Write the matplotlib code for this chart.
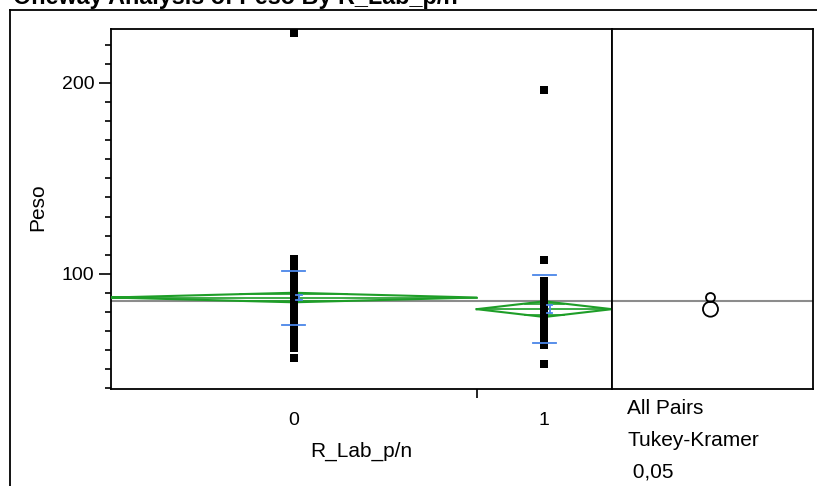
import matplotlib
matplotlib.use('Agg')
import matplotlib.pyplot as plt
from matplotlib.lines import Line2D
import numpy as np

# Constants
FIG_W, FIG_H, DPI = 817, 486, 100
FONT = 'Liberation Sans'
GREEN = '#1E9E28'
BLUE = '#4A86E8'
GREY = '#8C8C8C'

# Data
groups = ['0', '1']
group_counts = [73, 27]
peso_0 = [226, 108, 107, 106, 105, 104, 103, 102, 101, 100, 99, 98, 97, 97, 96,
          95, 95, 94, 93, 93, 92, 92, 91, 91, 90, 90, 89, 89, 88, 88, 88, 87, 87,
          86, 86, 86, 85, 85, 84, 84, 83, 83, 82, 82, 81, 81, 80, 80, 79, 79, 78,
          78, 77, 76, 76, 75, 74, 74, 73, 72, 71, 70, 70, 69, 68, 67, 66, 65, 64,
          63, 62, 61, 56]
peso_1 = [196, 107, 96, 95, 93, 91, 90, 89, 88, 87, 86, 85, 84, 83, 82, 81, 80,
          79, 78, 77, 76, 74, 72, 70, 67, 63, 53]
group_means = [87.6, 81.5]
group_ci = [2.5, 4.1]
group_se = [1.2, 2.2]
group_sd_upper = [101.7, 99.5]
group_sd_lower = [73.3, 63.7]
grand_mean = 86.0
y_limits = (39.7, 228.2)
y_major = [100, 200]
y_minor = list(range(40, 230, 10))


def px(x, y):
    """Pixel position (from top left) to figure fraction"""
    return x / FIG_W, 1 - y / FIG_H


def make_axes(fig, left, top, right, bottom):
    x0, y1 = px(left, top)
    x1, y0 = px(right, bottom)
    return fig.add_axes([x0, y0, x1 - x0, y1 - y0])


def draw_points(ax, centers):
    for c, vals in zip(centers, [peso_0, peso_1]):
        ax.plot([c] * len(vals), vals, 's', color='black', markersize=6,
                markeredgewidth=0, zorder=4)


def draw_diamonds(ax, edges, centers):
    for i, c in enumerate(centers):
        lo, hi = edges[i], edges[i + 1]
        m, ci = group_means[i], group_ci[i]
        ax.plot([lo, c, hi, c, lo], [m, m + ci, m, m - ci, m], color=GREEN, lw=1.5, zorder=3)
        ax.plot([lo, hi], [m, m], color=GREEN, lw=1.2, zorder=3)
        h = ci / np.sqrt(2)
        half = (hi - lo) / 2 * (1 - 1 / np.sqrt(2))
        for s in (1, -1):
            ax.plot([c - half, c + half], [m + s * h, m + s * h], color=GREEN, lw=1.2, zorder=3)


def draw_blue_marks(ax, centers, width):
    for i, c in enumerate(centers):
        for v in (group_sd_upper[i], group_sd_lower[i]):
            ax.plot([c - width, c + width], [v, v], color=BLUE, lw=1.3, zorder=5)
        m, se = group_means[i], group_se[i]
        x = c + width * 0.45
        ax.plot([x, x], [m - se, m + se], color=BLUE, lw=1.3, zorder=5)
        for v in (m - se, m + se):
            ax.plot([x - width * 0.25, x + width * 0.25], [v, v], color=BLUE, lw=1.3, zorder=5)


def main():
    fig = plt.figure(figsize=(FIG_W / DPI, FIG_H / DPI), dpi=DPI)

    # outer frame
    fig.add_artist(Line2D([10 / FIG_W, 10 / FIG_W], [0, 1 - 10 / FIG_H], color='black', lw=1.3))
    fig.add_artist(Line2D([10 / FIG_W, 1], [1 - 10 / FIG_H] * 2, color='black', lw=1.3))

    x, y = px(13, 4)
    fig.text(x, y, 'Oneway Analysis of Peso By R_Lab_p/n', family=FONT, fontsize=16.8,
             fontweight='bold', va='baseline', ha='left')

    ax = make_axes(fig, 111, 29, 612, 389)
    ax2 = make_axes(fig, 612, 29, 813, 389)

    edges = np.concatenate([[0], np.cumsum(group_counts)])
    centers = (edges[:-1] + edges[1:]) / 2
    ax.set_xlim(0, edges[-1])
    ax.set_ylim(*y_limits)
    ax2.set_xlim(0, 1)
    ax2.set_ylim(*y_limits)

    ax.axhline(grand_mean, color=GREY, lw=1.5, zorder=2)
    ax2.axhline(grand_mean, color=GREY, lw=1.5, zorder=2)

    draw_diamonds(ax, edges, centers)
    draw_points(ax, centers)
    draw_blue_marks(ax, centers, 2.3)

    # comparison circles
    ax2.scatter([0.49, 0.49], group_means, s=[42, 117], facecolors='none',
                edgecolors='black', linewidths=1.3, zorder=3)

    for a in (ax, ax2):
        for sp in a.spines.values():
            sp.set_linewidth(1.3)

    ax.set_yticks(y_major)
    ax.set_yticks(y_minor, minor=True)
    ax.tick_params(axis='y', which='major', length=8.5, width=1.2, pad=3.5, labelsize=14)
    ax.tick_params(axis='y', which='minor', length=4.3, width=1.2)
    ax.set_xticks(centers)
    ax.set_xticklabels(groups)
    ax.set_xticks(edges[1:-1], minor=True)
    ax.tick_params(axis='x', which='major', length=0, pad=16.5, labelsize=14)
    ax.tick_params(axis='x', which='minor', length=6.5, width=1.2)
    for lab in ax.get_xticklabels() + ax.get_yticklabels():
        lab.set_family(FONT)
    ax2.set_xticks([])
    ax2.set_yticks([])

    x, y = px(38, 207)
    fig.text(x, y, 'Peso', family=FONT, fontsize=15, rotation=90, ha='center', va='center')
    x, y = px(361, 451)
    fig.text(x, y, 'R_Lab_p/n', family=FONT, fontsize=15, ha='center', va='center')
    for txt, ty in [('All Pairs', 408), ('Tukey-Kramer', 440), (' 0,05', 472)]:
        x, y = px(627, ty)
        fig.text(x, y, txt, family=FONT, fontsize=15, ha='left', va='center')

    fig.savefig('out.png', dpi=DPI)


if __name__ == "__main__":
    main()
